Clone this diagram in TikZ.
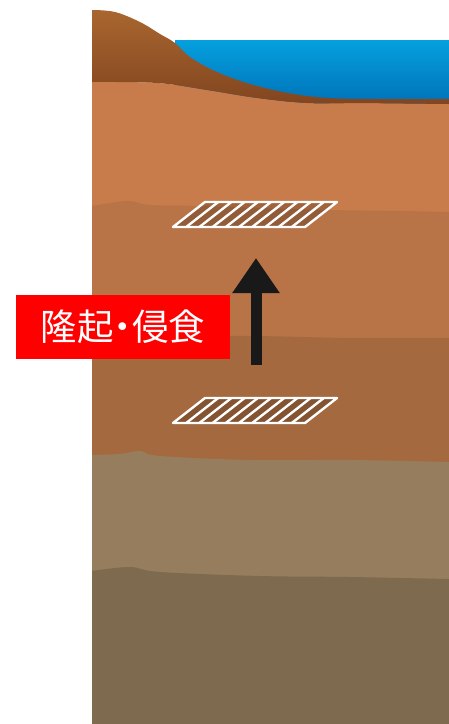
\documentclass[tikz,border=0pt]{standalone}
\usepackage{fontspec}
\usepackage{tikz}
\usetikzlibrary{arrows.meta}
\newfontfamily\cjk[RawFeature=+palt]{Noto Sans CJK JP}

\definecolor{seatop}{HTML}{05A0DE}
\definecolor{seabottom}{HTML}{0073B9}
\definecolor{hilltop}{HTML}{A9662F}
\definecolor{hillbottom}{HTML}{82451F}
\definecolor{stratumA}{HTML}{C87C4B}
\definecolor{stratumB}{HTML}{B87447}
\definecolor{stratumC}{HTML}{A5693F}
\definecolor{stratumD}{HTML}{967D5E}
\definecolor{stratumE}{HTML}{7E6A4E}

\tikzset{
  plane/.style={draw=white, line width=2.4pt},
  stratum/.style={draw=none}
}

% one hatched plane, #1 = y of its lower edge
\newcommand{\hatchplane}[1]{%
  \begin{scope}[shift={(0,#1)}]
    \fill[black, opacity=0.2] (173,0) -- (305,0) -- (337,-25) -- (205,-25) -- cycle;
    \foreach \k in {1,...,9}
      \draw[plane] ({173+13.2*\k},0) -- ({205+13.2*\k},-25);
    \draw[plane, line join=round] (173,0) -- (305,0) -- (337,-25) -- (205,-25) -- cycle;
  \end{scope}}

\begin{document}
\begin{tikzpicture}[x=1pt, y=-1pt]
  \fill[white] (0,0) rectangle (449,724);
  \useasboundingbox (0,0) rectangle (449,724);

  % sea
  \shade[top color=seatop, bottom color=seabottom] (175,40) rectangle (449,103);

  % strata, top to bottom
  \fill[stratumA] plot[smooth, tension=0.6] coordinates {(92,82) (157,83) (207,90) (257,98) (307,103) (357,103) (449,104)}
    -- (449,724) -- (92,724) -- cycle;
  \fill[stratumB] plot[smooth, tension=0.6] coordinates {(92,206) (110,203) (130,201) (150,205) (200,206) (260,208) (330,210) (400,211) (449,212)}
    -- (449,724) -- (92,724) -- cycle;
  \fill[stratumC] plot[smooth, tension=0.6] coordinates {(92,340) (150,337) (250,336) (350,338) (449,338)}
    -- (449,724) -- (92,724) -- cycle;
  \fill[stratumD] plot[smooth, tension=0.6] coordinates {(92,455) (120,454) (140,451) (160,456) (250,460) (350,460) (449,462)}
    -- (449,724) -- (92,724) -- cycle;
  \fill[stratumE] plot[smooth, tension=0.6] coordinates {(92,571) (130,567) (160,572) (260,576) (350,577) (449,579)}
    -- (449,724) -- (92,724) -- cycle;

  % hill running down under the sea
  \shade[top color=hilltop, bottom color=hillbottom]
    plot[smooth, tension=0.6] coordinates {(92,10) (115,12) (140,22) (160,34) (175,43) (190,57) (217,72) (257,86) (307,96) (357,99) (449,99)}
    -- (449,104)
    -- plot[smooth, tension=0.6] coordinates {(357,103) (307,103) (257,98) (207,90) (157,83) (92,82)}
    -- cycle;

  % hatched planes
  \hatchplane{227}
  \hatchplane{423}

  % uplift arrow
  \draw[black!90, line width=11pt, -{Triangle[width=45pt 0 0, length=35pt 0 0]}] (256,365) -- (256,258);

  \node[fill=red, text=white, minimum width=214pt, minimum height=64pt, inner sep=0pt,
        font=\cjk\fontsize{36.5}{36.5}\selectfont] (uplift) at (123,327) {隆起・侵食};
\end{tikzpicture}
\end{document}
